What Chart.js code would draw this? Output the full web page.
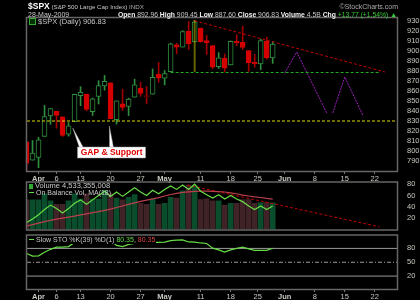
<!DOCTYPE html>
<html>
<head>
<meta charset="utf-8">
<title>$SPX Daily</title>
<script src="https://cdn.jsdelivr.net/npm/chart.js@4.4.1/dist/chart.umd.min.js"></script>
<style>
  body { margin: 0; background: #000; }
  #board { position: relative; width: 420px; height: 300px; overflow: hidden; background: #000;
           font-family: "Liberation Sans", Arial, sans-serif; }
  #board canvas { position: absolute; left: 0; }
  .txt { position: absolute; white-space: nowrap; font-size: 7px; line-height: 8px; color: #c8c8c8; }
  .txt b { color: #f0f0f0; }
  .ico { display: inline-block; vertical-align: -1px; margin-right: 2px; }
</style>
</head>
<body>
<div id="board">
  <canvas id="priceChart" width="420" height="186" style="top:0"></canvas>
  <canvas id="volChart" width="420" height="60" style="top:176px"></canvas>
  <canvas id="stoChart" width="420" height="71" style="top:229px"></canvas>

  <div class="txt" style="left:28px;top:2px;font-size:6.2px"><b style="font-size:8.5px;color:#fff">$SPX</b> (S&amp;P 500 Large Cap Index) <span style="color:#aaa">INDX</span></div>
  <div class="txt" style="right:22px;top:3px;color:#aaa">&copy;StockCharts.com</div>
  <div class="txt" style="left:28px;top:11px">28-May-2009</div>
  <div class="txt" style="right:23px;top:11px;font-size:6.8px"><b>Open</b> 892.96 <b>High</b> 909.45 <b>Low</b> 887.60 <b>Close</b> 906.83 <b>Volume</b> 4.5B <b>Chg</b> <span style="color:#3c3">+13.77 (+1.54%) &#9650;</span></div>
  <div class="txt" style="left:29px;top:18px;font-size:7.5px"><span class="ico" style="width:5px;height:5px;border:1px solid #3a3;background:#030"></span>$SPX (Daily) 906.83</div>
  <div class="txt" style="left:29px;top:182px;font-size:7.5px"><span class="ico" style="width:4px;height:5px;background:#3a3"></span>Volume 4,533,355,008</div>
  <div class="txt" style="left:29px;top:189px;font-size:7px"><span class="ico" style="width:5px;height:1px;background:#6d4;vertical-align:2px"></span>On Balance Vol, MA(18)</div>
  <div class="txt" style="left:28px;top:236px;font-size:7px;background:#000;padding:0 1px"><span class="ico" style="width:5px;height:1px;background:#6d4;vertical-align:2px"></span>Slow STO %K(39) %D(1) <span style="color:#6d4">80.35</span>, <span style="color:#d44">80.35</span></div>
</div>

<script>
// trading days shown, Mar 30 .. May 28 2009
const days = ['3/30', '3/31', '4/1', '4/2', '4/3', '4/6', '4/7', '4/8', '4/9', '4/13', '4/14',
  '4/15', '4/16', '4/17', '4/20', '4/21', '4/22', '4/23', '4/24', '4/27', '4/28', '4/29',
  '4/30', '5/1', '5/4', '5/5', '5/6', '5/7', '5/8', '5/11', '5/12', '5/13', '5/14', '5/15',
  '5/18', '5/19', '5/20', '5/21', '5/22', '5/26', '5/27', '5/28'];
const opens = [809.07, 790.88, 793.59, 814.53, 835.13, 839.75, 834.12, 816.76, 829.29, 855.33, 856.88,
  839.44, 854.54, 865.18, 868.27, 831.25, 847.26, 844.62, 853.91, 862.82, 854.48, 856.85,
  876.59, 872.74, 879.21, 906.10, 903.95, 919.58, 909.03, 922.99, 910.52, 905.40, 884.24, 892.76,
  886.07, 909.67, 908.62, 900.42, 888.68, 887.00, 909.95, 892.96];
const highs = [809.07, 810.48, 813.62, 845.61, 842.50, 839.75, 834.12, 828.42, 856.91, 864.31, 856.88,
  852.93, 870.35, 875.63, 868.27, 850.09, 861.78, 852.87, 871.80, 868.83, 864.48, 882.06,
  888.70, 880.48, 907.85, 907.70, 920.28, 929.58, 930.17, 922.99, 915.57, 905.40, 898.36, 896.97,
  910.00, 916.39, 924.60, 900.42, 896.65, 911.76, 913.84, 909.45];
const lows = [779.81, 790.88, 783.32, 814.53, 826.70, 822.79, 814.53, 814.84, 829.29, 845.35, 840.25,
  835.58, 847.04, 860.87, 832.39, 826.83, 840.57, 835.45, 853.91, 854.65, 847.12, 856.85,
  868.51, 866.10, 879.21, 897.34, 903.95, 901.36, 909.03, 908.68, 896.46, 882.17, 882.52, 878.94,
  886.07, 905.22, 901.37, 879.61, 883.75, 881.46, 891.87, 887.60];
const closes = [787.53, 797.87, 811.08, 834.38, 842.50, 835.48, 815.55, 825.16, 856.56, 858.73, 841.50,
  852.06, 865.30, 869.60, 832.39, 850.08, 843.55, 851.92, 866.23, 857.51, 855.16, 873.64,
  872.81, 877.52, 907.24, 903.80, 919.53, 907.39, 929.23, 909.24, 908.35, 883.92, 893.07, 882.88,
  909.71, 908.13, 903.47, 888.33, 887.00, 910.33, 893.06, 906.83];
const closeBefore = 815.94; // Mar 27

// volume in billions of shares
const volumes = [5.05, 5.05, 5.05, 6.09, 4.90, 4.31, 4.31, 4.90, 6.09, 5.20, 6.09,
  5.20, 5.20, 6.68, 6.09, 5.35, 5.05, 5.49, 5.94, 4.46, 4.31, 5.20,
  4.31, 4.46, 5.49, 5.35, 6.58, 7.57, 7.43, 5.09, 5.24, 4.90, 4.90, 4.16,
  4.46, 4.46, 5.09, 5.09, 4.46, 4.60, 4.60, 4.53];
const obv = [12.3, 18.5, 26.2, 35.4, 43.1, 36.9, 29.2, 36.9, 46.2, 52.3, 44.6,
  52.3, 60.0, 67.7, 58.5, 66.2, 58.5, 66.2, 73.8, 66.2, 60.0, 69.2,
  63.1, 70.8, 76.9, 70.8, 78.5, 70.8, 80.0, 67.7, 61.5, 55.4, 61.5, 53.8,
  60.0, 53.8, 49.2, 41.5, 35.4, 41.5, 35.4, 41.5];
const obvMa = [6.2, 8.6, 11.2, 13.8, 16.2, 18.2, 20.0, 21.8, 23.7, 25.7, 27.7,
  29.7, 31.7, 33.8, 36.0, 38.8, 41.5, 44.3, 47.1, 49.7, 51.8, 54.0,
  56.3, 59.2, 61.8, 63.7, 65.5, 66.6, 67.4, 67.7, 67.7, 67.4, 66.8, 66.2,
  64.6, 63.1, 60.8, 59.2, 57.7, 56.5, 54.9, 53.8];
const stoK = [69, 63.5, 64, 71.5, 78, 82.8, 82.8, 84, 93, 97, 95,
  99, 100, 100, 97, 86.4, 84, 88.6, 90.7, 90.7, 90.7, 93,
  93, 93.5, 97, 98, 98.6, 94, 93.5, 91.8, 90.7, 80.6, 76.8, 72,
  76.8, 80, 82.8, 79, 75.7, 75.7, 75.7, 80.35];

// date ticks (trading-day index) and their labels
const tickPos = [2, 5, 9, 14, 19, 23, 29, 34, 38.5, 43, 48, 53, 58];
const tickText = ['Apr', '6', '13', '20', '27', 'May', '11', '18', '25', 'Jun', '8', '15', '22'];
const priceTicks = [790, 800, 810, 820, 830, 840, 850, 860, 870, 880, 890, 900, 910, 920, 930];
const obvTicks = [20, 40, 60, 80];
const stoTicks = [20, 50, 80];

// drawn annotations, [day index, value]
const supportLevel = 830;
const baseLine = [[24, 878.5], [58.8, 878.5]];
const topTrend = [[28, 930.2], [59.7, 879]];
const markMay8 = [[28, 930.5], [28, 879]];
const projection = [[43, 878], [45, 899], [50, 838], [50.5, null], [51, 838], [53, 874], [56, 836]];
const obvTrend = [[26.8, 78.5], [58.8, 4.6]];

const FONT = "'Liberation Sans', Arial, sans-serif";
const LABEL = '#c8c8c0';
const XMIN = 0.08, XMAX = 61.7;

const upDay = closes.map((c, i) => c >= (i ? closes[i - 1] : closeBefore));
const pts = (arr) => arr.map(p => ({ x: p[0], y: p[1] }));
const series = (arr) => arr.map((v, i) => ({ x: i, y: v }));

const framePlugin = {
  id: 'frame',
  afterDraw(chart) {
    const a = chart.chartArea, ctx = chart.ctx;
    ctx.save();
    ctx.strokeStyle = '#666';
    ctx.lineWidth = 1.5;
    ctx.strokeRect(a.left - 0.5, a.top - 0.5, a.right - a.left + 1, a.bottom - a.top + 1);
    ctx.restore();
  }
};

function xAxis(show) {
  return {
    type: 'linear', min: XMIN, max: XMAX, display: true, offset: false,
    afterBuildTicks: (axis) => { axis.ticks = tickPos.map(v => ({ value: v })); },
    afterFit: (axis) => { axis.height = show ? (show === 'bottom' ? 11 : 15) : 0; },
    grid: { drawOnChartArea: false, drawTicks: !!show, tickLength: 3, color: '#777', offset: false },
    border: { display: false },
    ticks: {
      display: !!show, color: LABEL, padding: 0, maxRotation: 0, autoSkip: false,
      font: (c) => ({ family: FONT, size: 7.5, weight: /[A-Z]/.test(tickText[tickPos.indexOf(c.tick && c.tick.value)] || '') ? 'bold' : 'normal' }),
      callback: (v) => tickText[tickPos.indexOf(v)]
    }
  };
}

function yRight(min, max, tickList) {
  return {
    position: 'right', min: min, max: max,
    afterBuildTicks: (axis) => { axis.ticks = tickList.map(v => ({ value: v })); },
    afterFit: (axis) => { axis.width = 23; },
    grid: { display: false },
    border: { display: false },
    ticks: { color: LABEL, padding: 2, autoSkip: false, font: { family: FONT, size: 7.5 } }
  };
}

const lineSet = (data, color, dash, width, yAxisID) => ({
  type: 'line', data: data, borderColor: color, borderDash: dash, borderWidth: width || 1,
  pointRadius: 0, fill: false, spanGaps: false, order: 0, yAxisID: yAxisID || 'y'
});

// ---------- price panel ----------
const calloutPlugin = {
  id: 'callout',
  afterDatasetsDraw(chart) {
    const x = chart.scales.x, y = chart.scales.y, ctx = chart.ctx;
    const bx = x.getPixelForValue(8.5), by = y.getPixelForValue(804);
    const bw = 68, bh = 11;
    ctx.save();
    ctx.fillStyle = '#fff';
    ctx.strokeStyle = '#999';
    ctx.lineWidth = 0.5;
    [[7.7, 823, bx + 2, bx + 6], [13.8, 825, bx + 32, bx + 36]].forEach(p => {
      ctx.beginPath();
      ctx.moveTo(x.getPixelForValue(p[0]), y.getPixelForValue(p[1]));
      ctx.lineTo(p[2], by + 1);
      ctx.lineTo(p[3], by + 1);
      ctx.closePath();
      ctx.fill();
      ctx.stroke();
    });
    ctx.fillRect(bx, by, bw, bh);
    ctx.strokeRect(bx, by, bw, bh);
    ctx.fillStyle = '#e00000';
    ctx.font = 'bold 8.5px ' + FONT;
    ctx.textAlign = 'center';
    ctx.textBaseline = 'middle';
    ctx.fillText('GAP & Support', bx + bw / 2, by + bh / 2 + 0.5);
    ctx.restore();
  }
};

new Chart(document.getElementById('priceChart'), {
  type: 'bar',
  data: {
    datasets: [
      lineSet([{ x: XMIN, y: supportLevel }, { x: XMAX, y: supportLevel }], '#d8d800', [3, 2]),
      lineSet(pts(baseLine), '#22aa22', [3, 2]),
      lineSet(pts(topTrend), '#c00000', [3, 2]),
      lineSet(pts(markMay8), '#c8c800', [1, 1], 2),
      lineSet(pts(projection), '#a020c0', [2, 1]),
      {
        label: 'body',
        data: days.map((d, i) => ({ x: i, y: [opens[i], closes[i]] })),
        barThickness: 5, grouped: false, borderSkipped: false, borderWidth: 1, order: 1,
        backgroundColor: closes.map((c, i) => c < opens[i] ? (upDay[i] ? '#2f8f3f' : '#d40000') : '#000'),
        borderColor: upDay.map(u => u ? '#2f8f3f' : '#d40000')
      },
      {
        label: 'wick',
        data: days.map((d, i) => ({ x: i, y: [lows[i], highs[i]] })),
        barThickness: 1, grouped: false, borderWidth: 0, order: 2,
        backgroundColor: upDay.map(u => u ? '#2f8f3f' : '#a00000')
      }
    ]
  },
  options: {
    responsive: false, animation: false,
    layout: { padding: { left: 27, top: 18, right: 0, bottom: 0 } },
    plugins: { legend: { display: false }, tooltip: { enabled: false } },
    scales: {
      x: xAxis('top'),
      y: yRight(780, 933, priceTicks)
    }
  },
  plugins: [framePlugin, calloutPlugin]
});

// ---------- volume + on balance volume ----------
new Chart(document.getElementById('volChart'), {
  type: 'bar',
  data: {
    datasets: [
      lineSet(series(obv), '#66dd44', [], 1.2),
      lineSet(series(obvMa), '#b8404c', [], 1.2),
      lineSet(pts(obvTrend), '#c00000', [3, 2]),
      {
        label: 'volume',
        data: volumes.map((v, i) => ({ x: i, y: v })),
        yAxisID: 'yv', barThickness: 5, grouped: false, borderWidth: 0, order: 3,
        backgroundColor: upDay.map(u => u ? '#0a4d2c' : '#3f2326')
      }
    ]
  },
  options: {
    responsive: false, animation: false,
    layout: { padding: { left: 27, top: 6, right: 0, bottom: 0 } },
    plugins: { legend: { display: false }, tooltip: { enabled: false } },
    scales: {
      x: Object.assign(xAxis(false), { display: false }),
      y: yRight(0, 83, obvTicks),
      yv: { display: false, min: 0, max: 8.02 }
    }
  },
  plugins: [framePlugin]
});

// ---------- slow stochastics ----------
new Chart(document.getElementById('stoChart'), {
  type: 'line',
  data: {
    datasets: [
      lineSet([{ x: XMIN, y: 80 }, { x: XMAX, y: 80 }], '#9a9a9a', []),
      lineSet([{ x: XMIN, y: 50 }, { x: XMAX, y: 50 }], '#9a9a9a', [4, 2, 1, 2]),
      lineSet([{ x: XMIN, y: 20 }, { x: XMAX, y: 20 }], '#9a9a9a', []),
      Object.assign(lineSet(series(stoK), '#66dd44', [], 1.2), { order: -1 })
    ]
  },
  options: {
    responsive: false, animation: false,
    layout: { padding: { left: 27, top: 6, right: 0, bottom: 0 } },
    plugins: { legend: { display: false }, tooltip: { enabled: false } },
    scales: {
      x: xAxis('bottom'),
      y: yRight(-8, 108, stoTicks)
    }
  },
  plugins: [framePlugin]
});
</script>
</body>
</html>
